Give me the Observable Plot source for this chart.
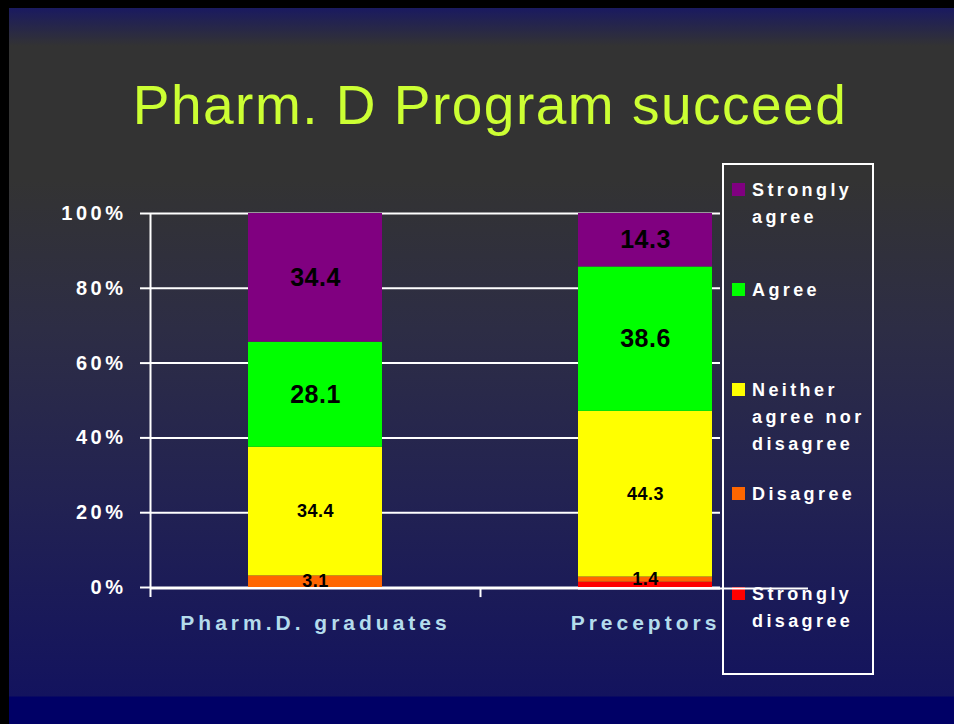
<!DOCTYPE html>
<html>
<head>
<meta charset="utf-8">
<script src="https://cdn.jsdelivr.net/npm/d3@7"></script>
<script src="https://cdn.jsdelivr.net/npm/@observablehq/plot@0.6"></script>
<style>
  html, body { margin: 0; padding: 0; width: 954px; height: 724px; overflow: hidden; }
  body {
    position: relative;
    font-family: "Liberation Sans", Arial, sans-serif;
  }
  .bg {
    background: linear-gradient(to bottom,
      #000000 0px, #000000 8px, #1a1a60 8px, #333333 46px, #333333 180px,
      #2d2d45 330px, #222252 500px, #13135e 696px, #000066 697px, #000066 724px);
    background-attachment: fixed;
  }
  #slide { position: absolute; left: 0; top: 0; width: 954px; height: 724px; }
  #leftBorder { position: absolute; left: 0; top: 0; width: 9px; height: 724px; background: #000; }
  #title {
    position: absolute; left: 90px; width: 800px; top: 78px;
    text-align: center; font-size: 55px; line-height: 55px; letter-spacing: 1.5px;
    color: #ccff33; font-family: "Liberation Sans", Arial, sans-serif;
  }
  #legend {
    position: absolute; left: 722px; top: 163px; width: 148px; height: 508px;
    border: 2px solid #ffffff;
  }
  .lg-sq { position: absolute; width: 13px; height: 13px; }
  .lg-tx {
    position: absolute; color: #ffffff; font-weight: bold; font-size: 18px;
    line-height: 27px; letter-spacing: 3.4px; white-space: pre;
  }
  #chart { position: absolute; left: 0; top: 0; }
  g[aria-label="y-axis tick label"] text { letter-spacing: 3.5px; }
  g[aria-label="x-axis tick label"] text { letter-spacing: 4px; }
  g[aria-label="text"] text { letter-spacing: 0.5px; }
</style>
</head>
<body>
<div id="slide" class="bg"></div>
<div id="leftBorder"></div>
<div id="title">Pharm. D Program succeed</div>
<div id="legend" class="bg"></div>
<div id="chart"></div>
<script>
// ---- data ----
const groups = ["Pharm.D. graduates", "Preceptors"];
const categories = ["Strongly disagree", "Disagree", "Neither agree nor disagree", "Agree", "Strongly agree"];
const graduatesValues = [0, 3.1, 34.4, 28.1, 34.4];
const preceptorsValues = [1.4, 1.4, 44.3, 38.6, 14.3];
const colors = ["#ff0000", "#ff6600", "#ffff00", "#00ff00", "#800080"];
const legendLabels = ["Strongly\ndisagree", "Disagree", "Neither\nagree nor\ndisagree", "Agree", "Strongly\nagree"];
const yTicks = [0, 20, 40, 60, 80, 100];

const rows = [];
categories.forEach((c, i) => {
  rows.push({group: groups[0], category: c, value: graduatesValues[i]});
  rows.push({group: groups[1], category: c, value: preceptorsValues[i]});
});
const bigCats = new Set(["Agree", "Strongly agree"]);

// ---- layout ----
const W = 954, H = 724;
const xRange = [150, 810];
const halfStep = (xRange[1] - xRange[0]) / 4;

const chart = Plot.plot({
  width: W,
  height: H,
  marginLeft: 150,
  marginRight: W - 720,
  marginTop: 213,
  marginBottom: H - 587,
  style: {background: "transparent", fontFamily: "'Liberation Sans', Arial, sans-serif", color: "#ffffff", overflow: "visible"},
  x: {domain: groups, range: xRange, paddingInner: 0.594, paddingOuter: 0.297},
  y: {domain: [0, 100]},
  color: {domain: categories, range: colors},
  marks: [
    Plot.ruleY(yTicks, {stroke: "#ffffff", strokeWidth: 2}),
    Plot.barY(rows, {x: "group", y: "value", fill: "category", order: categories}),
    Plot.ruleY([0], {stroke: "#ffffff", strokeWidth: 2, dy: 1}),
    Plot.text(rows, Plot.stackY({
      x: "group", y: "value", z: "category", order: categories,
      text: d => d.category === "Strongly disagree" ? null : d.value.toFixed(1),
      fontSize: d => bigCats.has(d.category) ? 25 : 18,
      fontWeight: "bold", fill: "#000000"
    })),
    // y axis line (extends slightly below 0) and x-axis boundary tick
    Plot.ruleX([groups[0]], {y1: -2.7, y2: 100, dx: -halfStep, stroke: "#ffffff", strokeWidth: 2}),
    Plot.ruleX([groups[1]], {y1: -2.7, y2: 0, dx: -halfStep, stroke: "#ffffff", strokeWidth: 2}),
    // baseline continues under the legend box toward the plot's right edge
    Plot.ruleY([0], {x1: () => groups[1], x2: () => groups[1], insetRight: -96, dy: 1, stroke: "#ffffff", strokeWidth: 2}),
    Plot.axisY({ticks: yTicks, tickFormat: d => d + "%", tickSize: 10, tickPadding: 14,
      fontSize: 20, fontWeight: "bold", fill: "#ffffff", stroke: "#ffffff", strokeWidth: 2, label: null}),
    Plot.axisX({tickSize: 0, tickPadding: 28, fontSize: 21, fontWeight: "bold", fill: "#b4dcec", dx: 0, label: null})
  ]
});
document.getElementById("chart").appendChild(chart);

// ---- legend (top to bottom: reverse of stack order) ----
const legend = document.getElementById("legend");
const tops = [587, 487, 383, 283, 183];
categories.forEach((c, i) => {
  const sq = document.createElement("div");
  sq.className = "lg-sq";
  sq.style.left = (732 - 724) + "px";
  sq.style.top = (tops[i] - 165) + "px";
  sq.style.background = colors[i];
  legend.appendChild(sq);
  const tx = document.createElement("div");
  tx.className = "lg-tx";
  tx.style.left = (752 - 724) + "px";
  tx.style.top = (tops[i] - 165 - 6) + "px";
  tx.textContent = legendLabels[i];
  legend.appendChild(tx);
});
</script>
</body>
</html>
